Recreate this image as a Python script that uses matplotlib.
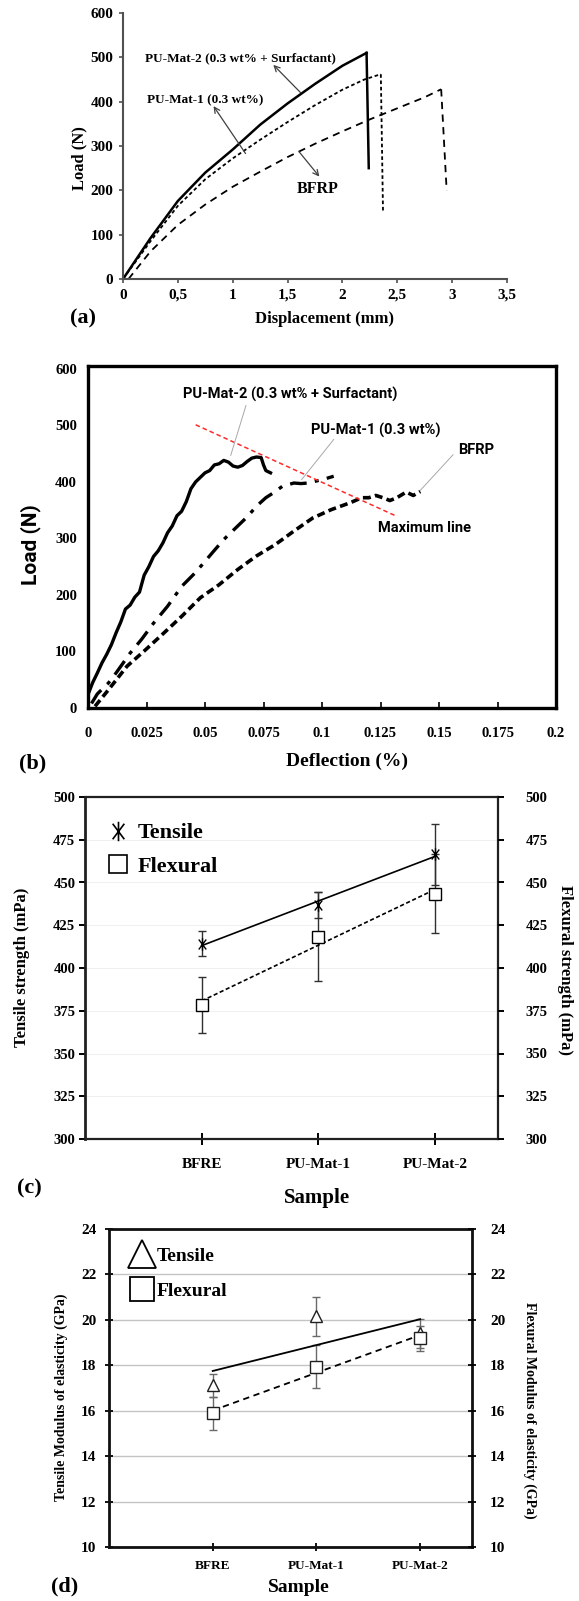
import numpy as np
import matplotlib
matplotlib.use("Agg")
import matplotlib.pyplot as plt
from matplotlib.path import Path
from matplotlib.lines import Line2D

plt.rcParams['font.family'] = ['Liberation Serif', 'DejaVu Serif']
plt.rcParams['font.weight'] = 'bold'
SANS = ['Liberation Sans Narrow', 'Roboto', 'DejaVu Sans']

W, H = 579, 1601

# ---------------- (a) data ----------------
a_x_mat2 = [0, 0.25, 0.5, 0.75, 1.0, 1.25, 1.5, 1.75, 2.0, 2.22]
a_y_mat2 = [0, 92, 176, 240, 292, 348, 396, 440, 481, 510]
a_drop_mat2 = [[2.22, 2.24], [510, 250]]
a_x_mat1 = [0, 0.25, 0.5, 0.75, 1.0, 1.25, 1.5, 1.75, 2.0, 2.2, 2.35]
a_y_mat1 = [0, 85, 165, 225, 272, 314, 354, 392, 427, 450, 462]
a_drop_mat1 = [[2.35, 2.37], [462, 150]]
a_x_bfrp = [0.05, 0.25, 0.5, 0.75, 1.0, 1.25, 1.5, 1.75, 2.0, 2.25, 2.5, 2.75, 2.9]
a_y_bfrp = [0, 62, 122, 168, 208, 242, 275, 305, 333, 360, 385, 410, 428]
a_drop_bfrp = [[2.9, 2.95], [428, 200]]
a_xticks = [0, 0.5, 1, 1.5, 2, 2.5, 3, 3.5]
a_xticklabels = ['0', '0,5', '1', '1,5', '2', '2,5', '3', '3,5']
a_yticks = [0, 100, 200, 300, 400, 500, 600]

# ---------------- (b) data ----------------
b_x_mat2 = [0.0005, 0.002, 0.004, 0.006, 0.008, 0.010, 0.012, 0.014, 0.016, 0.018, 0.020,
            0.022, 0.024, 0.026, 0.028, 0.030, 0.032, 0.034, 0.036, 0.038, 0.040, 0.042,
            0.044, 0.046, 0.048, 0.050, 0.052, 0.054, 0.056, 0.058, 0.060, 0.062, 0.064,
            0.066, 0.068, 0.070, 0.072, 0.074, 0.075, 0.076, 0.078]
b_y_mat2 = [29, 45, 62, 80, 95, 112, 133, 152, 175, 182, 196, 205, 235, 250, 268, 278, 292,
            310, 322, 340, 348, 365, 388, 400, 408, 416, 420, 430, 432, 438, 435, 428, 426,
            429, 436, 442, 444, 443, 430, 420, 416]
b_x_mat1 = [0.0015, 0.004, 0.0087, 0.012, 0.018, 0.023, 0.028, 0.034, 0.040, 0.046, 0.053,
            0.058, 0.064, 0.068, 0.072, 0.076, 0.079, 0.083, 0.088, 0.091, 0.094, 0.098,
            0.101, 0.105]
b_y_mat1 = [8, 25, 44, 62, 97, 122, 150, 180, 215, 240, 274, 298, 322, 338, 357, 372, 380,
            392, 398, 397, 398, 402, 405, 410]
b_x_bfrp = [0.003, 0.0087, 0.0167, 0.0246, 0.0325, 0.040, 0.048, 0.056, 0.064, 0.072, 0.080,
            0.088, 0.096, 0.104, 0.112, 0.117, 0.120, 0.123, 0.126, 0.129, 0.132, 0.136,
            0.139, 0.142]
b_y_bfrp = [3, 32, 74, 103, 133, 162, 195, 218, 245, 269, 289, 313, 336, 351, 363, 372, 372,
            376, 372, 367, 372, 382, 376, 383]
b_max_x = [0.046, 0.132]
b_max_y = [501, 339]
b_xticks = [0, 0.025, 0.05, 0.075, 0.1, 0.125, 0.15, 0.175, 0.2]
b_xticklabels = ['0', '0.025', '0.05', '0.075', '0.1', '0.125', '0.15', '0.175', '0.2']
b_yticks = [0, 100, 200, 300, 400, 500, 600]

# ---------------- (c) data ----------------
samples = ['BFRE', 'PU-Mat-1', 'PU-Mat-2']
c_tensile = [414.3, 436.7, 466.5]
c_tensile_err = [7.5, 7.5, 18.0]
c_flexural = [378.3, 418.2, 443.5]
c_flexural_err = [16.5, 26.0, 23.0]
c_yticks = [300, 325, 350, 375, 400, 425, 450, 475, 500]

# ---------------- (d) data ----------------
d_tensile = [17.12, 20.15, 19.4]
d_tensile_err = [0.5, 0.87, 0.65]
d_flexural = [15.88, 17.93, 19.2]
d_flexural_err = [0.73, 0.95, 0.55]
d_yticks = [10, 12, 14, 16, 18, 20, 22, 24]


def rect(x0, y0, x1, y1):
    return [x0 / W, 1 - y1 / H, (x1 - x0) / W, (y1 - y0) / H]


def fpt(x, y):
    return x / W, 1 - y / H


fig = plt.figure(figsize=(W / 100, H / 100), dpi=100)

# ======================= (a) =======================
ax = fig.add_axes(rect(123, 13, 507, 279))
ax.plot(a_x_mat2, a_y_mat2, color='black', lw=1.8)
ax.plot(*a_drop_mat2, color='black', lw=1.8)
ax.plot(a_x_mat1, a_y_mat1, color='black', lw=1.3, dashes=(2, 1.5))
ax.plot(*a_drop_mat1, color='black', lw=1.3, dashes=(2, 1.5))
ax.plot(a_x_bfrp, a_y_bfrp, color='black', lw=1.3, dashes=(4, 3))
ax.plot(*a_drop_bfrp, color='black', lw=1.3, dashes=(4, 3))
ax.set_xlim(0, 3.5)
ax.set_ylim(0, 600)
ax.set_xticks(a_xticks)
ax.set_xticklabels(a_xticklabels)
ax.set_yticks(a_yticks)
for s in ['top', 'right']:
    ax.spines[s].set_visible(False)
for s in ['left', 'bottom']:
    ax.spines[s].set_color('#505050')
    ax.spines[s].set_linewidth(1.5)
ax.tick_params(direction='out', length=3, width=1.2, color='#505050', labelsize=11, pad=4)
ax.set_ylabel('Load (N)', fontsize=12, fontweight='bold')
ax.yaxis.set_label_coords(-0.094, 0.455)
ax.set_xlabel('Displacement (mm)', fontsize=12, fontweight='bold')
ax.xaxis.set_label_coords(0.526, -0.12)
arr = dict(arrowstyle='->', color='#404040', lw=0.9, shrinkA=0, shrinkB=0)
ax.annotate('', xy=(1.37, 483), xytext=(1.62, 420), arrowprops=arr)
ax.text(1.07, 498, 'PU-Mat-2 (0.3 wt% + Surfactant)', fontsize=9.5, ha='center', va='center')
ax.annotate('', xy=(0.825, 390), xytext=(1.117, 283), arrowprops=arr)
ax.text(0.75, 404, 'PU-Mat-1 (0.3 wt%)', fontsize=9.5, ha='center', va='center')
ax.annotate('', xy=(1.79, 231), xytext=(1.605, 287), arrowprops=arr)
ax.text(1.77, 204, 'BFRP', fontsize=11.5, ha='center', va='center')
fig.text(*fpt(83, 318), '(a)', fontsize=16, ha='center', va='center')

# ======================= (b) =======================
ax = fig.add_axes(rect(88, 366, 556, 708))
ax.plot(b_x_mat2, b_y_mat2, color='black', lw=2.4, solid_joinstyle='round')
ax.plot(b_x_mat1, b_y_mat1, color='black', lw=2.4, dashes=(5, 2.5, 1.2, 2.5))
ax.plot(b_x_bfrp, b_y_bfrp, color='black', lw=2.6, dashes=(2.2, 1.2))
ax.plot(b_max_x, b_max_y, color='#ff2a2a', lw=1.1, dashes=(3, 2))
ax.set_xlim(0, 0.2)
ax.set_ylim(0, 605)
ax.set_xticks(b_xticks)
ax.set_xticklabels(b_xticklabels)
ax.set_yticks(b_yticks)
for s in ax.spines.values():
    s.set_linewidth(2.4)
    s.set_color('black')
ax.tick_params(axis='x', direction='in', length=4, width=1.2, labelsize=10.5, pad=14)
ax.tick_params(axis='y', direction='in', length=0, labelsize=10.5, pad=8)
ax.set_ylabel('Load (N)', fontsize=15, fontweight='bold', family=SANS)
ax.yaxis.set_label_coords(-0.1, 0.477)
ax.set_xlabel('Deflection (%)', fontsize=14, fontweight='bold')
ax.xaxis.set_label_coords(0.553, -0.132)
gl = dict(color='#a8a8a8', lw=0.7)
ax.plot([0.061, 0.0675], [447, 535], **gl)
ax.plot([0.0913, 0.105], [404, 475], **gl)
ax.plot([0.142, 0.156], [385, 448], **gl)
ax.text(0.0865, 555, 'PU-Mat-2 (0.3 wt% + Surfactant)', fontsize=10.5, ha='center',
        va='center', family=SANS, fontweight='bold')
ax.text(0.123, 491, 'PU-Mat-1 (0.3 wt%)', fontsize=10.5, ha='center', va='center',
        family=SANS, fontweight='bold')
ax.text(0.166, 457, 'BFRP', fontsize=10.5, ha='center', va='center', family=SANS,
        fontweight='bold')
ax.text(0.1437, 319, 'Maximum line', fontsize=10.5, ha='center', va='center', family=SANS,
        fontweight='bold')
fig.text(*fpt(33, 763), '(b)', fontsize=16, ha='center', va='center')

# ======================= (c) =======================
ast = Path([(0, -1), (0, 1), (-0.6, -0.8), (0.6, 0.8), (-0.6, 0.8), (0.6, -0.8)],
           [Path.MOVETO, Path.LINETO, Path.MOVETO, Path.LINETO, Path.MOVETO, Path.LINETO])
pos = np.arange(1, len(samples) + 1)
ax = fig.add_axes(rect(85, 797, 498, 1139))
ax.set_xlim(0, 3.54)
ax.set_ylim(300, 500)
ax.set_yticks(c_yticks)
ax.grid(axis='y', color='#f0f0f0', lw=0.8)
ax.set_axisbelow(True)
ax.errorbar(pos, c_tensile, yerr=c_tensile_err, fmt='none', ecolor='#303030', elinewidth=1,
            capsize=3, capthick=1)
ax.errorbar(pos, c_flexural, yerr=c_flexural_err, fmt='none', ecolor='#303030', elinewidth=1,
            capsize=3, capthick=1)
kt = np.polyfit(pos, c_tensile, 1)
kf = np.polyfit(pos, c_flexural, 1)
ax.plot(pos[[0, -1]], np.polyval(kt, pos[[0, -1]]), color='black', lw=1.2)
ax.plot(pos[[0, -1]], np.polyval(kf, pos[[0, -1]]), color='black', lw=1.2, dashes=(2.5, 1.5))
ax.plot(pos, c_tensile, ls='none', marker=ast, ms=9, mec='black', mew=1.0, mfc='none')
ax.plot(pos, c_flexural, ls='none', marker='s', ms=8, mec='black', mew=1.0, mfc='white')
ax.set_xticks(pos)
ax.set_xticklabels(samples)
for s in ax.spines.values():
    s.set_color('#202020')
    s.set_linewidth(1.6)
ax.spines['left'].set_linewidth(2.0)
ax.tick_params(axis='y', direction='out', length=4, width=1.4, labelsize=10.5, pad=3)
ax.tick_params(axis='x', direction='inout', length=8, width=1.4, labelsize=11, pad=10)
ax.set_ylabel('Tensile strength (mPa)', fontsize=12, fontweight='bold')
ax.yaxis.set_label_coords(-0.133, 0.503)
ax2 = ax.twinx()
ax2.set_ylim(300, 500)
ax2.set_yticks(c_yticks)
ax2.tick_params(axis='y', direction='out', length=4, width=1.4, labelsize=10.5, pad=16)
ax2.set_ylabel('Flexural strength (mPa)', fontsize=12, fontweight='bold', rotation=270,
               va='center')
ax2.yaxis.set_label_coords(1.162, 0.494)
for s in ax2.spines.values():
    s.set_visible(False)
ax.set_xlabel('Sample', fontsize=15, fontweight='bold')
ax.xaxis.set_label_coords(0.562, -0.143)
handles = [Line2D([], [], ls='none', marker=ast, ms=14, mec='black', mew=1.2, mfc='none'),
           Line2D([], [], ls='none', marker='s', ms=13, mec='black', mew=1.2, mfc='white')]
ax.legend(handles, ['Tensile', 'Flexural'], loc='upper left', bbox_to_anchor=(0.015, 0.97),
          frameon=False, prop={'size': 16, 'weight': 'bold'}, handlelength=1.0,
          handletextpad=0.4, labelspacing=0.6, borderpad=0.2)
fig.text(*fpt(29, 1188), '(c)', fontsize=16, ha='center', va='center')

# ======================= (d) =======================
ax = fig.add_axes(rect(109, 1229, 472, 1547))
ax.set_xlim(0, 3.5)
ax.set_ylim(10, 24)
ax.set_yticks(d_yticks)
ax.grid(axis='y', color='#c4c4c4', lw=1.0)
ax.set_axisbelow(True)
ax.errorbar(pos, d_tensile, yerr=d_tensile_err, fmt='none', ecolor='#6a6a6a', elinewidth=1,
            capsize=3, capthick=1)
ax.errorbar(pos, d_flexural, yerr=d_flexural_err, fmt='none', ecolor='#6a6a6a', elinewidth=1,
            capsize=3, capthick=1)
kt = np.polyfit(pos, d_tensile, 1)
kf = np.polyfit(pos, d_flexural, 1)
ax.plot(pos[[0, -1]], np.polyval(kt, pos[[0, -1]]), color='black', lw=1.3)
ax.plot(pos[[0, -1]], np.polyval(kf, pos[[0, -1]]), color='black', lw=1.3, dashes=(3.5, 2.5))
ax.plot(pos, d_tensile, ls='none', marker='^', ms=8, mec='#202020', mew=1.0, mfc='white')
ax.plot(pos, d_flexural, ls='none', marker='s', ms=8, mec='#202020', mew=1.0, mfc='white')
ax.set_xticks(pos)
ax.set_xticklabels(samples)
for s in ax.spines.values():
    s.set_color('#101010')
    s.set_linewidth(2.0)
ax.tick_params(axis='y', direction='inout', length=6, width=1.3, labelsize=11, pad=6)
ax.tick_params(axis='x', direction='inout', length=6, width=1.3, labelsize=9.5, pad=6)
ax.set_ylabel('Tensile Modulus of elasticity (GPa)', fontsize=10, fontweight='bold')
ax.yaxis.set_label_coords(-0.113, 0.472)
ax2 = ax.twinx()
ax2.set_ylim(10, 24)
ax2.set_yticks(d_yticks)
ax2.tick_params(axis='y', direction='inout', length=6, width=1.3, labelsize=11, pad=10)
for s in ax2.spines.values():
    s.set_visible(False)
ax2.set_ylabel('Flexural Modulus of elasticity (GPa)', fontsize=10, fontweight='bold',
               rotation=270, va='center')
ax2.yaxis.set_label_coords(1.16, 0.431)
ax.set_xlabel('Sample', fontsize=14, fontweight='bold')
ax.xaxis.set_label_coords(0.523, -0.1)
handles = [Line2D([], [], ls='none', marker='^', ms=20, mec='black', mew=1.3, mfc='white'),
           Line2D([], [], ls='none', marker='s', ms=17, mec='black', mew=1.3, mfc='white')]
ax.legend(handles, ['Tensile', 'Flexural'], loc='upper left', bbox_to_anchor=(0.03, 0.985),
          frameon=False, prop={'size': 14, 'weight': 'bold'}, handlelength=0.9,
          handletextpad=0.3, labelspacing=0.9, borderpad=0.2)
fig.text(*fpt(65, 1586), '(d)', fontsize=16, ha='center', va='center')

fig.savefig('out.png', dpi=100)
